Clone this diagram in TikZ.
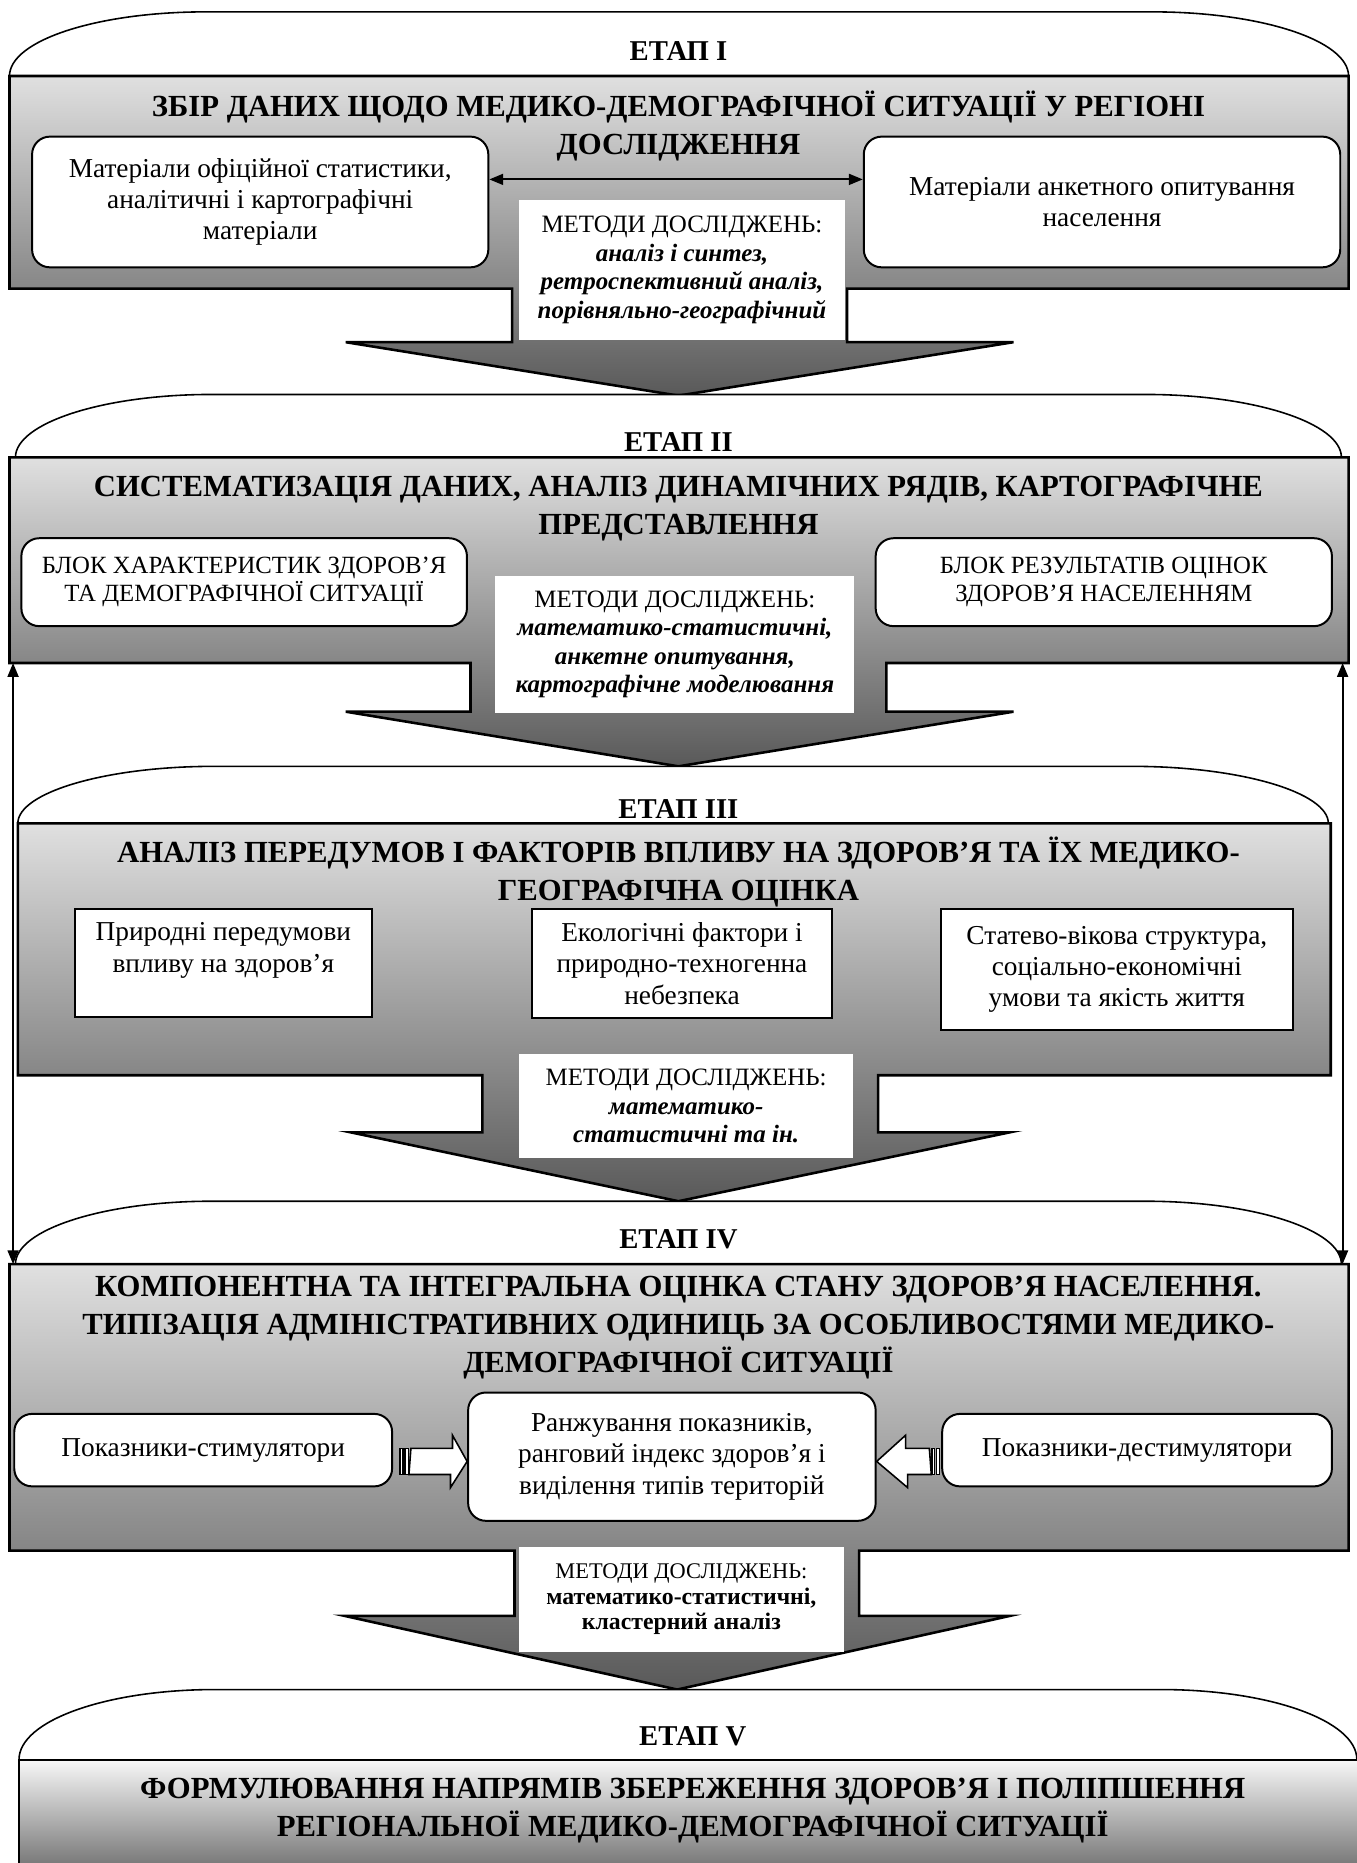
\documentclass[tikz,border=0pt]{standalone}
\usepackage{fontspec}
\setmainfont{Liberation Serif}
\usetikzlibrary{arrows.meta,calc}
\definecolor{paneltop}{HTML}{E0E0E0}
\definecolor{panelbot}{HTML}{595959}
\definecolor{footbot}{HTML}{4D4D4D}
\newcommand{\mtd}[1]{\textbf{\textit{#1}}}

\begin{document}
\begin{tikzpicture}[x=0.6pt,y=-0.6pt,
    every node/.style={inner sep=0pt,align=center},
    tab/.style={draw=black,fill=white,line width=0.8pt},
    stagebody/.style={draw=black,line width=1.3pt,line join=miter,top color=paneltop,bottom color=panelbot},
    etap/.style={font=\fontsize{14.5}{17}\selectfont\bfseries},
    head/.style={font=\fontsize{15.5}{19.2}\selectfont\bfseries},
    rbox/.style={draw=black,fill=white,line width=1pt,rounded corners=9pt,font=\fontsize{13.8}{15.8}\selectfont},
    sbox/.style={draw=black,fill=white,line width=1pt,font=\fontsize{13.8}{15.8}\selectfont},
    capbox/.style={rbox,font=\fontsize{12.5}{14}\selectfont},
    methods/.style={fill=white,font=\fontsize{12.6}{14.4}\selectfont},
    dblarrow/.style={{Triangle[length=7pt,width=5.5pt]}-{Triangle[length=7pt,width=5.5pt]},line width=1pt},
    barrow/.style={draw=black,fill=white,line width=0.8pt,line join=miter}]
  \useasboundingbox (0,0) rectangle (1142,1568);
  \clip (0,0) rectangle (1142,1568);

  % stage I
  \draw[tab] (8,64) .. controls (8,34) and (82,10) .. (173,10) -- (970,10) .. controls (1061,10) and (1135,34) .. (1135,64);
  \draw[stagebody] (8,64) -- (1135,64) -- (1135,243) -- (713,243) -- (713,288) -- (853,288) -- (571,333) -- (291,288) -- (431,288) -- (431,243) -- (8,243) -- cycle;
  \node[etap] (t1) at (571,43) {ЕТАП І};
  \node[head] (h1) at (571,106) {ЗБІР ДАНИХ ЩОДО МЕДИКО-ДЕМОГРАФІЧНОЇ СИТУАЦІЇ У РЕГІОНІ\\ДОСЛІДЖЕННЯ};
  \node[rbox,minimum width=230.4pt,minimum height=66pt] (mat1) at (219,170) {Матеріали офіційної статистики,\\аналітичні і картографічні\\матеріали};
  \node[rbox,minimum width=240.6pt,minimum height=66pt] (mat2) at (927.5,170) {Матеріали анкетного опитування\\населення};
  \node[methods,minimum width=164.4pt,minimum height=70.8pt] (meth1) at (574,227) {МЕТОДИ ДОСЛІДЖЕНЬ:\\\mtd{аналіз і синтез,}\\\mtd{ретроспективний аналіз,}\\\mtd{порівняльно-географічний}};
  \draw[dblarrow] ([yshift=11.4pt]mat1.east) -- ([yshift=11.4pt]mat2.west);

  % stage II
  \draw[tab] (13,385) .. controls (13,356) and (87,332) .. (178,332) -- (964,332) .. controls (1055,332) and (1129,356) .. (1129,385);
  \draw[stagebody] (8,385) -- (1135,385) -- (1135,558) -- (746,558) -- (746,599) -- (853,599) -- (571,645) -- (291,599) -- (396,599) -- (396,558) -- (8,558) -- cycle;
  \node[etap] (t2) at (571,372) {ЕТАП ІІ};
  \node[head] (h2) at (571,428) {СИСТЕМАТИЗАЦІЯ ДАНИХ, АНАЛІЗ ДИНАМІЧНИХ РЯДІВ, КАРТОГРАФІЧНЕ\\ПРЕДСТАВЛЕННЯ};
  \node[capbox,minimum width=225pt,minimum height=44.4pt] (blk1) at (205.5,490) {БЛОК ХАРАКТЕРИСТИК ЗДОРОВ’Я\\ТА ДЕМОГРАФІЧНОЇ СИТУАЦІЇ};
  \node[capbox,minimum width=230.4pt,minimum height=44.4pt] (blk2) at (929,490) {БЛОК РЕЗУЛЬТАТІВ ОЦІНОК\\ЗДОРОВ’Я НАСЕЛЕННЯМ};
  \node[methods,minimum width=181.2pt,minimum height=69pt] (meth2) at (568,542.5) {МЕТОДИ ДОСЛІДЖЕНЬ:\\\mtd{математико-статистичні,}\\\mtd{анкетне опитування,}\\\mtd{картографічне моделювання}};

  % stage III
  \draw[tab] (15,693) .. controls (15,667) and (89,645) .. (180,645) -- (953,645) .. controls (1044,645) and (1118,667) .. (1118,693);
  \draw[stagebody] (15,693) -- (1120,693) -- (1120,905) -- (739,905) -- (739,953) -- (850,953) -- (571,1011) -- (295,953) -- (406,953) -- (406,905) -- (15,905) -- cycle;
  \node[etap] (t3) at (571,681) {ЕТАП ІІІ};
  \node[head] (h3) at (571,734) {АНАЛІЗ ПЕРЕДУМОВ І ФАКТОРІВ ВПЛИВУ НА ЗДОРОВ’Я ТА ЇХ МЕДИКО-\\ГЕОГРАФІЧНА ОЦІНКА};
  \node[sbox,minimum width=150pt,minimum height=54.6pt] (pr) at (188,810.5) {Природні передумови\\впливу на здоров’я\\~};
  \node[sbox,minimum width=151.2pt,minimum height=55.2pt] (eco) at (574,811) {Екологічні фактори і\\природно-техногенна\\небезпека};
  \node[sbox,minimum width=177.6pt,minimum height=61.2pt] (soc) at (940,816) {Статево-вікова структура,\\соціально-економічні\\умови та якість життя};
  \node[methods,minimum width=168.6pt,minimum height=52.8pt] (meth3) at (577.5,931) {МЕТОДИ ДОСЛІДЖЕНЬ:\\\mtd{математико-}\\\mtd{статистичні та ін.}};

  % stage IV
  \draw[tab] (13,1064) .. controls (13,1035) and (87,1011) .. (178,1011) -- (964,1011) .. controls (1055,1011) and (1129,1035) .. (1129,1064);
  \draw[stagebody] (8,1064) -- (1135,1064) -- (1135,1305) -- (723,1305) -- (723,1360) -- (850,1360) -- (570,1422) -- (290,1360) -- (433,1360) -- (433,1305) -- (8,1305) -- cycle;
  \node[etap] (t4) at (571,1043) {ЕТАП IV};
  \node[head] (h4) at (571,1117) {КОМПОНЕНТНА ТА ІНТЕГРАЛЬНА ОЦІНКА СТАНУ ЗДОРОВ’Я НАСЕЛЕННЯ.\\ТИПІЗАЦІЯ АДМІНІСТРАТИВНИХ ОДИНИЦЬ ЗА ОСОБЛИВОСТЯМИ МЕДИКО-\\ДЕМОГРАФІЧНОЇ СИТУАЦІЇ};
  \node[rbox,minimum width=190.8pt,minimum height=36.6pt] (stim) at (171,1220.5) {Показники-стимулятори};
  \node[rbox,minimum width=205.8pt,minimum height=64.8pt] (rank) at (565.5,1226) {Ранжування показників,\\ранговий індекс здоров’я і\\виділення типів територій};
  \node[rbox,minimum width=196.8pt,minimum height=36.6pt] (dest) at (957,1220.5) {Показники-дестимулятори};
  \draw[barrow] ($(stim.east)+(6,-1.5)$) rectangle ++(2.5,22);
  \draw[barrow] ($(stim.east)+(10,-1.5)$) rectangle ++(3,22);
  \draw[barrow] ($(stim.east)+(15,-1.5)$) -- ++(35,0) -- ++(0,-11) -- ($(rank.west)+(0,4)$) -- ++(-14,22) -- ++(0,-11) -- ++(-35,0) -- cycle;
  \draw[barrow] ($(dest.west)+(-8,-1.5)$) rectangle ++(2.5,22);
  \draw[barrow] ($(dest.west)+(-4,-1.5)$) rectangle ++(2.5,22);
  \draw[barrow] ($(dest.west)+(-10,-1.5)$) -- ++(-20,0) -- ++(0,-11) -- ($(rank.east)+(0,4)$) -- ++(26,22) -- ++(0,-11) -- ++(20,0) -- cycle;
  \node[methods,minimum width=163.8pt,minimum height=52.8pt,font=\fontsize{11.3}{12.8}\selectfont] (meth4) at (573.5,1346) {МЕТОДИ ДОСЛІДЖЕНЬ:\\\textbf{\fontsize{12}{12.8}\selectfont математико-статистичні,}\\\textbf{\fontsize{12}{12.8}\selectfont кластерний аналіз}};

  % stage V
  \draw[tab] (16,1481) .. controls (16,1448) and (90,1422) .. (181,1422) -- (977,1422) .. controls (1068,1422) and (1142,1448) .. (1142,1481);
  \path[top color=black!3,bottom color=footbot] (16,1481) rectangle (1160,1600);
  \draw[line width=1.1pt] (16,1600) -- (16,1481) -- (1160,1481);
  \node[etap] (t5) at (583,1461) {ЕТАП V};
  \node[head] (h5) at (583,1524) {ФОРМУЛЮВАННЯ НАПРЯМІВ ЗБЕРЕЖЕННЯ ЗДОРОВ’Я І ПОЛІПШЕННЯ\\РЕГІОНАЛЬНОЇ МЕДИКО-ДЕМОГРАФІЧНОЇ СИТУАЦІЇ};

  % links between stages II and IV
  \coordinate (s2sw) at (11,558);
  \coordinate (s4nw) at (11,1064);
  \coordinate (s2se) at (1130,558);
  \coordinate (s4ne) at (1130,1064);
  \draw[dblarrow] (s2sw) -- (s4nw);
  \draw[dblarrow] (s2se) -- (s4ne);
\end{tikzpicture}
\end{document}
